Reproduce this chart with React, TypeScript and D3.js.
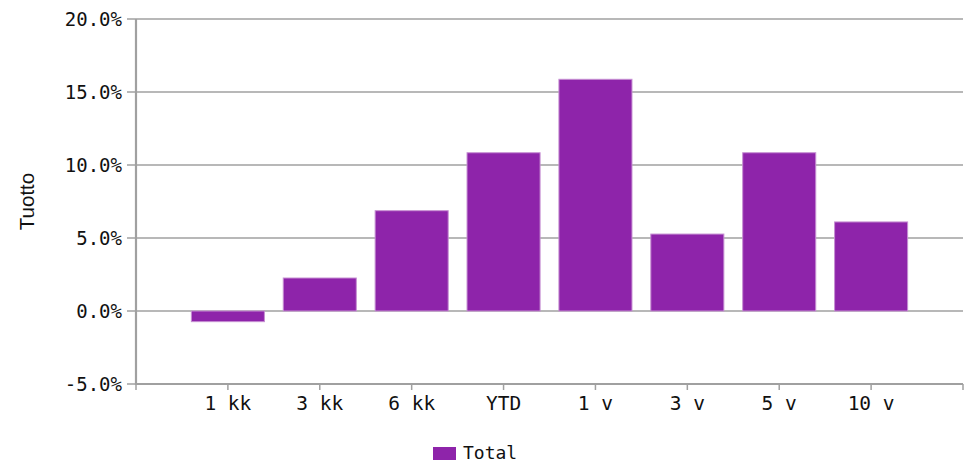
import React from "react";
import * as d3 from "d3";

const categories = ["1 kk", "3 kk", "6 kk", "YTD", "1 v", "3 v", "5 v", "10 v"];
const totalValues = [-0.73, 2.26, 6.87, 10.84, 15.87, 5.27, 10.84, 6.1];
const yTicks = [-5, 0, 5, 10, 15, 20];
const seriesName = "Total";
const yLabel = "Tuotto";

const W = 964;
const H = 463;
const M = { left: 136, right: 1, top: 19, bottom: 79 };
const BAR = "#8e24aa";
const GRID = "#a0a0a0";
const MONO = "'DejaVu Sans Mono', monospace";

const fmt = (t: number) => d3.format(".1f")(t).replace("\u2212", "-") + "%";

export default function App() {
  const x = d3.scaleLinear().domain([0, categories.length + 1]).range([M.left, W - M.right]);
  const y = d3.scaleLinear().domain([-5, 20]).range([H - M.bottom, M.top]);
  const step = x(1) - x(0);
  const bw = step * 0.795;
  const xTicks = d3.range(0, categories.length + 2);

  return (
    <svg width={W} height={H} style={{ position: "absolute", left: 0, top: 0, background: "#fff" }}>
      {yTicks.map((t) => (
        <g key={t}>
          <line x1={M.left - 9} x2={W - M.right} y1={y(t)} y2={y(t)} stroke={GRID} strokeWidth={1.6} />
          <text
            x={M.left - 14}
            y={y(t)}
            dy="0.36em"
            textAnchor="end"
            fontFamily={MONO}
            fontSize={19}
            fill="#111"
          >
            {fmt(t)}
          </text>
        </g>
      ))}
      {totalValues.map((v, i) => {
        const cx = x(i + 1);
        const y0 = y(Math.max(0, v));
        const y1 = y(Math.min(0, v));
        return (
          <rect
            key={categories[i]}
            x={cx - bw / 2}
            y={y0}
            width={bw}
            height={y1 - y0}
            fill={BAR}
            stroke="#c68fd2"
            strokeWidth={1}
          />
        );
      })}
      <line x1={M.left} x2={M.left} y1={M.top} y2={H - M.bottom + 1} stroke={GRID} strokeWidth={2.2} />
      <line x1={M.left} x2={W - M.right} y1={H - M.bottom} y2={H - M.bottom} stroke={GRID} strokeWidth={2.2} />
      {xTicks.map((t) => (
        <g key={t}>
          <line x1={x(t)} x2={x(t)} y1={H - M.bottom} y2={H - M.bottom + 6} stroke={GRID} strokeWidth={1.5} />
          {t >= 1 && t <= categories.length && (
            <text
              x={x(t)}
              y={H - M.bottom + 26}
              textAnchor="middle"
              fontFamily={MONO}
              fontSize={19.5}
              fill="#111"
              style={{ whiteSpace: "pre" }}
            >
              {categories[t - 1]}
            </text>
          )}
        </g>
      ))}
      <text
        transform={`translate(34, ${(y(20) + y(-5)) / 2}) rotate(-90)`}
        textAnchor="middle"
        fontFamily="'Liberation Sans', Arial, sans-serif"
        fontSize={20.5}
        fill="#111"
      >
        {yLabel}
      </text>
      <rect x={433} y={447} width={23} height={13} fill={BAR} />
      <text x={463} y={458.5} fontFamily={MONO} fontSize={18} fill="#111">
        {seriesName}
      </text>
    </svg>
  );
}
